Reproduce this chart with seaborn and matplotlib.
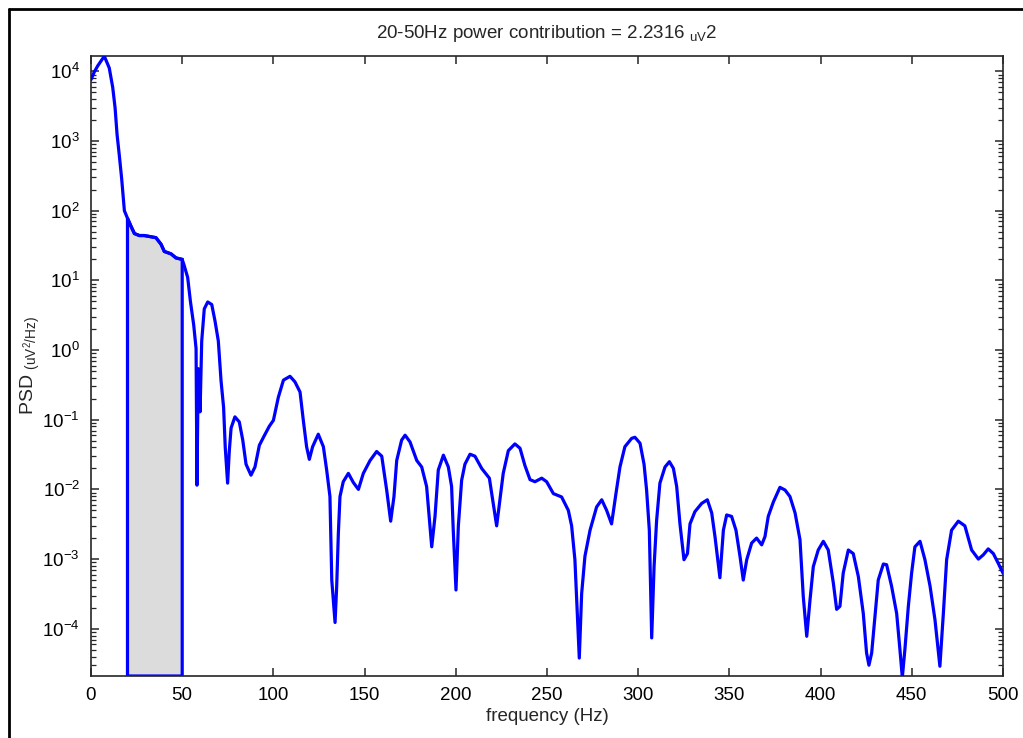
import numpy as np
import pandas as pd
import matplotlib
matplotlib.use("Agg")
import matplotlib.pyplot as plt
from matplotlib.lines import Line2D
from matplotlib.ticker import LogLocator, FixedLocator
import seaborn as sns

# ---- data ----
freq = [0, 1.8, 3.7, 7.3, 10, 11.9, 13.2, 14.3, 15.5, 16.8, 18.3, 20, 21.9, 23.8, 26.5, 29.2,
        35.6, 38.4, 40.2, 43.9, 46.6, 50, 51.2, 53, 54.5, 56.3, 57.6, 58.1, 58.8, 59.8, 60.7,
        62.1, 64, 66.2, 68, 69.8, 71.3, 72.7, 73.6, 74.9, 75.8, 76.8, 78.9, 81.3, 83.2, 85,
        87.7, 89.9, 92.3, 95, 97.8, 100, 102.7, 105.5, 109.1, 111.8, 114.6, 116.4, 118.2,
        119.7, 121.5, 124.6, 127.4, 129.2, 131, 132, 133.8, 134.7, 135.6, 136.5, 138.3,
        141.1, 143.8, 146.6, 149.3, 153, 156.6, 159.4, 162.1, 164.3, 166.1, 167.6, 170.3,
        172.2, 174.9, 178.6, 181.3, 184, 186.8, 188.6, 190.4, 193.2, 195.9, 197.7, 198.6,
        200.1, 201.4, 203.2, 205, 207.8, 210.5, 214.2, 218.4, 220.2, 222.4, 224.2, 226,
        228.8, 232.4, 235.2, 237.9, 240.7, 243.4, 247.1, 249.8, 253.5, 258, 261.7, 263.5,
        265.3, 266.6, 267.7, 269, 270.8, 273.6, 277.2, 280, 282.7, 285.4, 287.8, 290, 292.7,
        296.4, 298.2, 301, 303.2, 304.6, 306.1, 307.4, 308.7, 310.1, 311.9, 314.7, 317.1,
        319.3, 321.1, 322.9, 325.1, 327, 328.4, 331.1, 334.8, 337.9, 340.3, 342.1, 344.8,
        346.7, 348.5, 351.2, 353.6, 355.8, 357.6, 359.5, 362.2, 364.9, 367.7, 369.5, 371.3,
        374.1, 377.7, 380.5, 383.2, 386, 388.7, 390.5, 392.4, 394.2, 396, 398.7, 401.5,
        404.2, 407, 408.8, 410.6, 412.4, 415.2, 417.9, 420.7, 423.4, 425.2, 426.5, 428,
        429.8, 431.6, 434.4, 436.2, 438.9, 441.7, 443.5, 444.8, 446.2, 448.1, 449.9, 451.7,
        454.5, 457.2, 460, 462.7, 465.4, 467.3, 469.1, 471.8, 475.5, 479.1, 482.8, 486.5,
        489.2, 491.9, 494.7, 497.4, 500]
psd = [7600, 9800, 12000, 16500, 11200, 5900, 3000, 1230, 630, 290, 100, 78, 60, 47, 44, 44,
       41, 33, 26, 24, 21, 20, 16, 11, 5.0, 2.3, 1.05, 0.0115, 0.54, 0.13, 1.35,
       3.9, 4.9, 4.5, 2.6, 1.35, 0.36, 0.15, 0.040, 0.0123, 0.035, 0.076, 0.11, 0.093, 0.051, 0.023,
       0.016, 0.021, 0.043, 0.059, 0.081, 0.098, 0.21, 0.37, 0.42, 0.35, 0.25, 0.098, 0.041,
       0.027, 0.041, 0.062, 0.041, 0.019, 0.0079, 0.0005, 0.000123, 0.00041, 0.0023, 0.0079, 0.0129,
       0.017, 0.0126, 0.010, 0.017, 0.026, 0.035, 0.030, 0.0098, 0.0035, 0.0079, 0.026, 0.051,
       0.060, 0.048, 0.026, 0.021, 0.011, 0.0015, 0.0041, 0.019, 0.031, 0.021, 0.011, 0.0026,
       0.00036, 0.0030, 0.0135, 0.023, 0.032, 0.030, 0.020, 0.0145, 0.0071, 0.0030, 0.0071, 0.017,
       0.036, 0.045, 0.039, 0.022, 0.0138, 0.0129, 0.0145, 0.0129, 0.0087, 0.0078, 0.0050, 0.0030,
       0.00098, 0.000166, 0.000038, 0.00032, 0.0011, 0.0026, 0.0056, 0.0071, 0.0050, 0.0032, 0.0087, 0.021, 0.041,
       0.054, 0.056, 0.046, 0.023, 0.0098, 0.0026, 0.000074, 0.00078, 0.0036, 0.0123, 0.021, 0.025,
       0.020, 0.011, 0.0032, 0.00098, 0.0012, 0.0032, 0.0048, 0.0063, 0.0071, 0.0046, 0.0021, 0.00054,
       0.0026, 0.0043, 0.0041, 0.0026, 0.0011, 0.0005, 0.00098, 0.0017, 0.0020, 0.0016, 0.0021, 0.0041,
       0.0066, 0.0107, 0.0098, 0.0079, 0.0046, 0.0019, 0.00029, 0.000078, 0.00026, 0.00078, 0.00135, 0.0018,
       0.00135, 0.00045, 0.00019, 0.00021, 0.00063, 0.00135, 0.0012, 0.00056, 0.000166, 0.000045, 0.00003, 0.000045,
       0.000151, 0.0005, 0.00085, 0.00083, 0.00041, 0.000166, 0.00005, 0.00002, 0.00005, 0.00021, 0.00063, 0.0015,
       0.0018, 0.00098, 0.00041, 0.000135, 0.000029, 0.000166, 0.00098, 0.0026, 0.0035, 0.0030, 0.00135, 0.001,
       0.00115, 0.0014, 0.0012, 0.00087, 0.00063]

band = [20, 50]
band_power = "2.2316"
x_ticks = [0, 50, 100, 150, 200, 250, 300, 350, 400, 450, 500]
y_exponents = [-4, -3, -2, -1, 0, 1, 2, 3, 4]
y_limits = [2.1e-5, 1.66e4]

# ---- style ----
sns.set_style("ticks")
plt.rcParams["font.family"] = ["Liberation Sans", "DejaVu Sans"]
plt.rcParams["mathtext.fontset"] = "custom"
plt.rcParams["mathtext.rm"] = "Liberation Sans"
plt.rcParams["mathtext.it"] = "Liberation Sans"
plt.rcParams["mathtext.default"] = "regular"

FS = 13.5

df = pd.DataFrame({"frequency": freq, "psd": psd})

fig = plt.figure(figsize=(10.23, 7.38), dpi=100, facecolor="white")
ax = fig.add_axes([91 / 1023, 1 - 676 / 738, (1003 - 91) / 1023, (676 - 56) / 738])
ax.set_facecolor("white")

# shaded band
sel = df[(df["frequency"] >= band[0]) & (df["frequency"] <= band[1])]
bx = np.concatenate([[band[0]], sel["frequency"].values, [band[1]]])
by = np.concatenate([[y_limits[0]], sel["psd"].values, [y_limits[0]]])
ax.fill(bx, by, facecolor="#dcdcdc", edgecolor="#0000ff", linewidth=2.3, zorder=2)

sns.lineplot(data=df, x="frequency", y="psd", ax=ax, color="#0000ff", linewidth=2.3,
             zorder=3, sort=False)

ax.set_yscale("log")
ax.set_xlim(0, 500)
ax.set_ylim(*y_limits)
ax.set_xticks(x_ticks)
ax.set_xticklabels([str(t) for t in x_ticks])
ax.yaxis.set_major_locator(FixedLocator([10.0 ** e for e in y_exponents]))
ax.set_yticklabels([r"$10^{%d}$" % e for e in y_exponents])
ax.yaxis.set_minor_locator(LogLocator(base=10, subs=np.arange(2, 10), numticks=30))

for s in ax.spines.values():
    s.set_color("#262626")
    s.set_linewidth(1.2)

ax.tick_params(axis="both", which="major", direction="in", length=6, width=1.1,
               top=True, right=True, labelsize=FS, colors="#262626", pad=8)
ax.tick_params(axis="y", which="minor", direction="in", length=3.5, width=0.9,
               left=True, right=True)
ax.tick_params(axis="x", which="minor", bottom=False, top=False)
for lab in ax.get_xticklabels() + ax.get_yticklabels():
    lab.set_color("black")

ax.set_xlabel("frequency (Hz)", fontsize=FS, labelpad=3)
ax.set_ylabel(r"PSD $_{(uV^2/Hz)}$", fontsize=FS + 0.5, labelpad=0)
ax.set_title(r"%d-%dHz power contribution = %s ${}_{uV}$2" % (band[0], band[1], band_power),
             fontsize=FS, pad=13)

# window frame lines (left and top)
fig.add_artist(Line2D([9 / 1023, 9 / 1023], [0, 1 - 9 / 738], color="black", linewidth=2,
                      transform=fig.transFigure))
fig.add_artist(Line2D([9 / 1023, 1], [1 - 9 / 738, 1 - 9 / 738], color="black", linewidth=2,
                      transform=fig.transFigure))

fig.savefig("out.png", dpi=100, facecolor="white")
